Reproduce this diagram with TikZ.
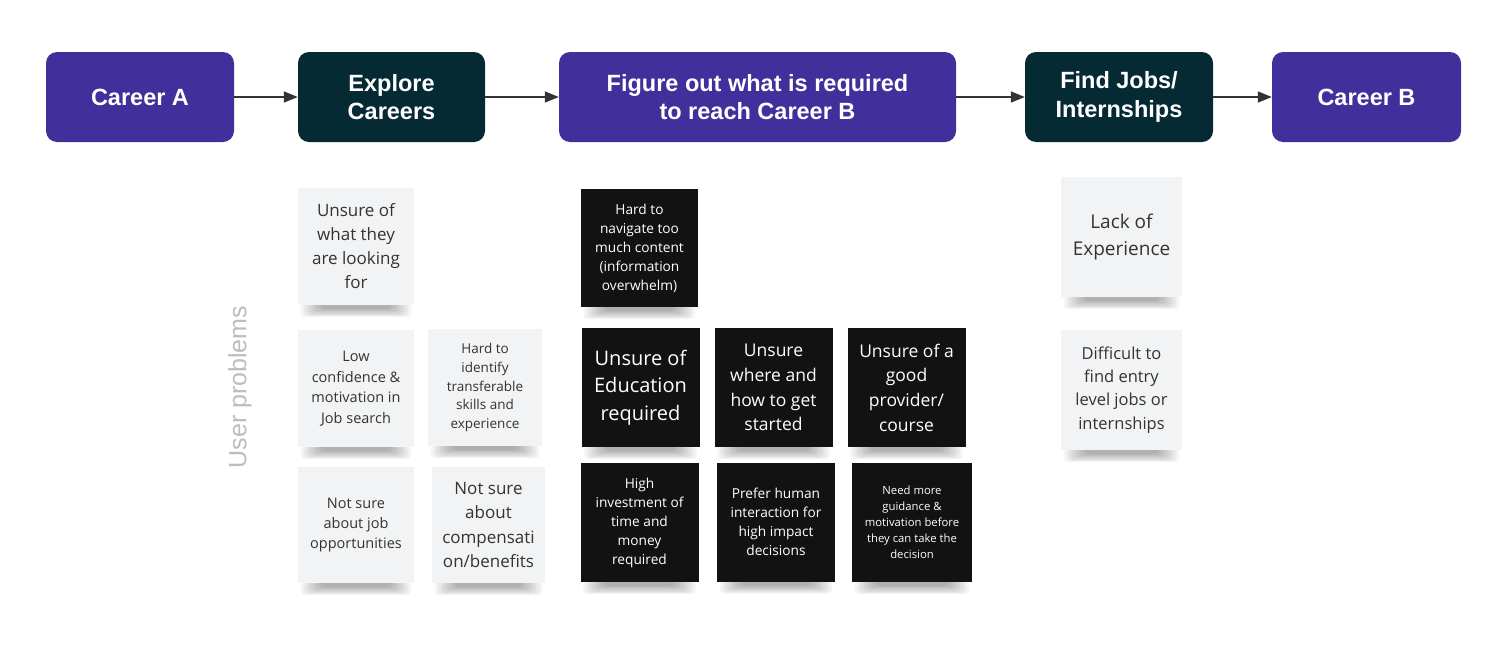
\documentclass[tikz,border=0pt]{standalone}
\usepackage{fontspec}
\setmainfont{Open Sans}
\newfontfamily\headfont{Liberation Sans}
\usetikzlibrary{arrows.meta}
\pgfdeclarelayer{background}
\pgfsetlayers{background,main}
\definecolor{purp}{HTML}{41309B}
\definecolor{darkteal}{HTML}{062A33}
\definecolor{notebg}{HTML}{F2F3F4}
\definecolor{notetext}{HTML}{333333}
\definecolor{labelgray}{HTML}{BDBDBD}
\definecolor{arrowgray}{HTML}{333333}
\newcommand\setfs[2]{\fontsize{#1}{#2}\selectfont}
\tikzset{
  stage/.style={rounded corners=11pt, fill=purp, text=white, align=center, inner sep=0pt,
    minimum height=90pt, font=\headfont\bfseries\setfs{23.5}{28.5}},
  stagedark/.style={stage, fill=darkteal},
  flow/.style={draw=arrowgray, line width=1.5pt, -{Triangle[length=14pt,width=11pt]}},
  lightnote/.style={fill=notebg, text=notetext, align=center, inner sep=0pt,
    minimum width=116pt, minimum height=117pt},
  darknote/.style={fill=black!93, text=white, align=center, inner sep=0pt,
    minimum width=118pt, minimum height=119pt},
}
\begin{document}
\begin{tikzpicture}[x=1pt,y=-1pt]
\useasboundingbox (0,0) rectangle (1510,662);

% stages
\node[stage, minimum width=188pt] (ca) at (140,97) {Career A};
\node[stagedark, minimum width=187pt] (ex) at (391.5,97) {Explore\\Careers};
\node[stage, minimum width=397pt] (fo) at (757.5,97) {Figure out what is required\\to reach Career B};
\node[stagedark, minimum width=188pt] (fj) at (1119,97) {Find Jobs/\\Internships};
\node[stage, minimum width=189pt] (cb) at (1366.5,97) {Career B};

\draw[flow] (ca) -- (ex);
\draw[flow] (ex) -- (fo);
\draw[flow] (fo) -- (fj);
\draw[flow] (fj) -- (cb);

% side label
\node[rotate=90, text=labelgray, font=\headfont\setfs{25}{30}] (up) at (240,387) {User problems};

% light notes
\node[lightnote, font=\setfs{17}{24}] (n1) at (356,246.5) {Unsure of\\what they\\are looking\\for};
\node[lightnote, font=\setfs{14.5}{20.5}] (n2) at (356,388.5) {Low\\confidence \&\\motivation in\\Job search};
\node[lightnote, minimum width=114pt, font=\setfs{13.5}{18.7}] (n3) at (485,387.5) {Hard to\\identify\\transferable\\skills and\\experience};
\node[lightnote, minimum height=116pt, font=\setfs{14.5}{20}] (n4) at (356,525) {Not sure\\about job\\opportunities};
\node[lightnote, minimum width=113pt, minimum height=116pt, font=\setfs{17}{24.5}] (n5) at (488.5,525) {Not sure\\about\\compensati\\on/benefits};

\node[lightnote, minimum width=121pt, minimum height=120pt, font=\setfs{19}{27}] (n6) at (1121.5,237) {Lack of\\Experience};
\node[lightnote, minimum width=121pt, minimum height=120pt, font=\setfs{16.5}{23.3}] (n7) at (1121.5,390) {Difficult to\\find entry\\level jobs or\\internships};

% dark notes
\node[darknote, minimum width=117pt, minimum height=118pt, font=\setfs{13.7}{19}] (b1) at (639.5,248) {Hard to\\navigate too\\much content\\(information\\overwhelm)};
\node[darknote, font=\setfs{20}{27.5}] (b2) at (640.5,387.5) {Unsure of\\Education\\required};
\node[darknote, font=\setfs{17.5}{24.7}] (b3) at (773.5,387.5) {Unsure\\where and\\how to get\\started};
\node[darknote, font=\setfs{17.5}{24.7}] (b4) at (906.5,387.5) {Unsure of a\\good\\provider/\\course};
\node[darknote, font=\setfs{13.7}{19}] (b5) at (639.5,522.5) {High\\investment of\\time and\\money\\required};
\node[darknote, font=\setfs{13.7}{19}] (b6) at (776,522) {Prefer human\\interaction for\\high impact\\decisions};
\node[darknote, minimum width=120pt, font=\setfs{11.3}{16}] (b7) at (912,522.5) {Need more\\guidance \&\\motivation before\\they can take the\\decision};

% white page and soft shadows under the notes
\begin{pgfonlayer}{background}
\fill[white] (0,0) rectangle (1510,662);
\foreach \n in {n1,n2,n3,n4,n5,n6,n7,b1,b2,b3,b4,b5,b6,b7}{
  \foreach \k in {0,...,7}{
    \fill[black, opacity=0.045, rounded corners=4pt]
      ([xshift={(3+3*\k)*1pt}, yshift=2pt]\n.south west)
      rectangle ([xshift={-(3+3*\k)*1pt}, yshift={-(12-1.2*\k)*1pt}]\n.south east);
  }
}
\end{pgfonlayer}
\end{tikzpicture}
\end{document}
